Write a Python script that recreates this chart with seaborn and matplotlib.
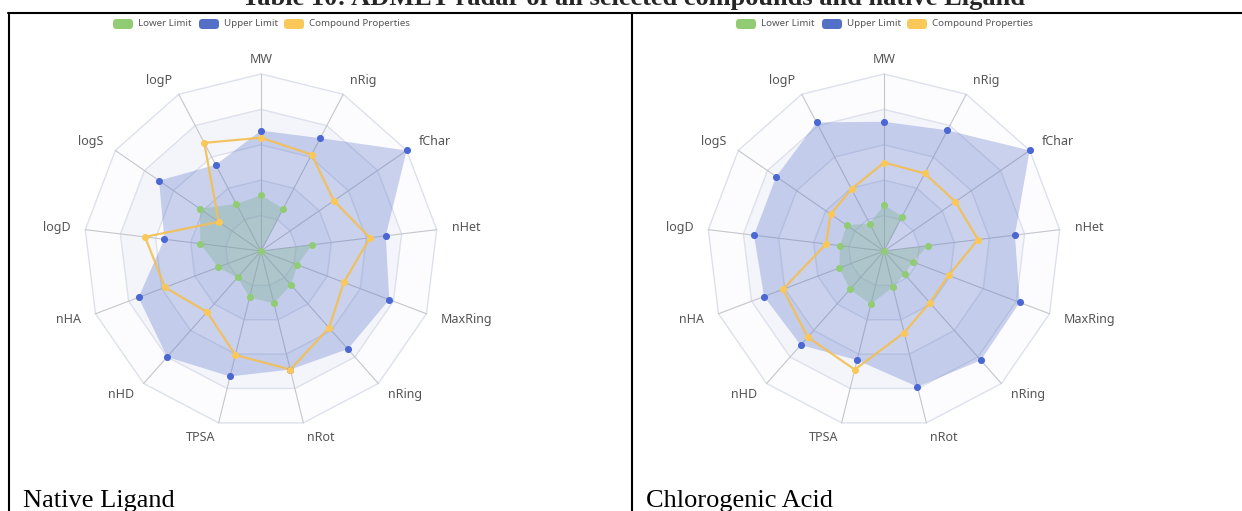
import numpy as np
import pandas as pd
import matplotlib
matplotlib.use("Agg")
import matplotlib.pyplot as plt
import seaborn as sns
from matplotlib.patches import FancyBboxPatch
from matplotlib.lines import Line2D
from matplotlib.transforms import IdentityTransform

# ---- data -------------------------------------------------------------
properties = ["MW", "nRig", "fChar", "nHet", "MaxRing", "nRing", "nRot",
              "TPSA", "nHD", "nHA", "logD", "logS", "logP"]

native_lower = [0.315, 0.27, 0.0, 0.29, 0.22, 0.255, 0.305, 0.27, 0.20, 0.26, 0.345, 0.42, 0.30]
native_upper = [0.68, 0.72, 1.0, 0.71, 0.775, 0.74, 0.69, 0.73, 0.80, 0.74, 0.55, 0.70, 0.55]
native_compound = [0.64, 0.615, 0.50, 0.62, 0.50, 0.58, 0.69, 0.605, 0.46, 0.58, 0.66, 0.29, 0.69]

chloro_lower = [0.26, 0.22, 0.0, 0.25, 0.175, 0.175, 0.21, 0.31, 0.29, 0.27, 0.25, 0.256, 0.175]
chloro_upper = [0.73, 0.77, 1.0, 0.745, 0.82, 0.825, 0.79, 0.635, 0.71, 0.725, 0.74, 0.74, 0.82]
chloro_compound = [0.50, 0.495, 0.49, 0.535, 0.39, 0.39, 0.475, 0.69, 0.65, 0.61, 0.33, 0.367, 0.395]

panel_names = ["Native Ligand", "Chlorogenic Acid"]
series_names = ["Lower Limit", "Upper Limit", "Compound Properties"]
title = "Table 10: ADMET radar of all selected compounds and native Ligand"

panels = [
    (panel_names[0], native_lower, native_upper, native_compound),
    (panel_names[1], chloro_lower, chloro_upper, chloro_compound),
]

# ---- style ------------------------------------------------------------
sns.set_theme(style="white")
plt.rcParams["font.family"] = ["Noto Sans", "DejaVu Sans"]

GREEN, BLUE, YELLOW = "#91cc75", "#5470c6", "#fac858"
BLUE_DOT = "#4a67d2"
W, H = 1242, 511
R = 177
centers = [(261, 251), (884, 251)]

fig = plt.figure(figsize=(W / 100, H / 100), dpi=100)


def fx(px):
    return px / W


def fy(py):
    return 1 - py / H


n = len(properties)
theta = np.arange(n) * 2 * np.pi / n
theta_closed = np.append(theta, theta[0])


def closed(vals):
    v = np.asarray(vals, dtype=float)
    return np.append(v, v[0])


for (name, lower, upper, comp), (cx, cy) in zip(panels, centers):
    ax = fig.add_axes([fx(cx - R), fy(cy + R), 2 * R / W, 2 * R / H],
                      projection="polar")
    ax.set_theta_zero_location("N")
    ax.set_theta_direction(-1)
    ax.set_ylim(0, 1)
    ax.axis("off")

    # alternating split areas, outermost first
    band_colors = ["#fcfcfe", "#f3f5fa"]
    for k, lvl in enumerate([1.0, 0.8, 0.6, 0.4, 0.2]):
        ax.fill(theta_closed, np.full(n + 1, lvl), color=band_colors[k % 2],
                lw=0, zorder=0, clip_on=False)
    # ring lines
    for lvl in [0.2, 0.4, 0.6, 0.8, 1.0]:
        ax.plot(theta_closed, np.full(n + 1, lvl), color="#dde1ec", lw=1.0,
                zorder=1, clip_on=False)
    # spokes
    for t in theta:
        ax.plot([t, t], [0, 1], color="#c4c6cc", lw=0.8, zorder=1, clip_on=False)

    # long-form table of the three series
    df = pd.DataFrame({
        "theta": np.tile(theta_closed, 3),
        "value": np.concatenate([closed(lower), closed(upper), closed(comp)]),
        "series": np.repeat(series_names, n + 1),
    })
    low = df[df.series == series_names[0]]
    up = df[df.series == series_names[1]]
    cp = df[df.series == series_names[2]]

    ax.fill(low.theta, low.value, color=GREEN, alpha=0.35, lw=0, zorder=2, clip_on=False)
    ax.fill(up.theta, up.value, color=BLUE, alpha=0.3, lw=0, zorder=3, clip_on=False)

    sns.lineplot(data=cp, x="theta", y="value", sort=False, estimator=None,
                 color="#f4bf52", lw=1.6, alpha=0.9, ax=ax, zorder=4,
                 clip_on=False, legend=False)

    for sub, col in [(low, GREEN), (up, BLUE_DOT), (cp, YELLOW)]:
        sns.scatterplot(data=sub.iloc[:-1], x="theta", y="value", color=col,
                        s=26, linewidth=0, ax=ax, zorder=5, clip_on=False,
                        legend=False)
    ax.set_xlabel("")
    ax.set_ylabel("")

    # property names
    r_lab = 1 + 15 / R
    for t, lab in zip(theta, properties):
        sx = np.sin(t)
        ha = "center" if abs(sx) < 0.05 else ("left" if sx > 0 else "right")
        ax.text(t, r_lab, lab, ha=ha, va="center", fontsize=9, color="#555555")

    # legend
    for off, col, lab in zip([-148, -62, 23], [GREEN, BLUE, YELLOW], series_names):
        x0 = cx + off
        fig.add_artist(FancyBboxPatch((x0, H - 29), 20, 10,
                                      boxstyle="round,pad=0,rounding_size=3.5",
                                      transform=IdentityTransform(),
                                      facecolor=col, edgecolor="none"))
        fig.text(fx(x0 + 25), fy(24), lab, ha="left", va="center",
                 fontsize=7, color="#555555")

    # caption under each panel
    fig.text(fx(cx - 238), fy(507), name, ha="left", va="baseline",
             fontsize=19, family="Liberation Serif", color="black")

# table rules
lw = 1.5
fig.add_artist(Line2D([fx(8), 1], [fy(13), fy(13)], color="black", lw=lw,
                      transform=fig.transFigure))
fig.add_artist(Line2D([fx(9), fx(9)], [fy(13), 0], color="black", lw=lw,
                      transform=fig.transFigure))
fig.add_artist(Line2D([fx(632), fx(632)], [fy(13), 0], color="black", lw=lw,
                      transform=fig.transFigure))

# title, sized to span the table heading
t = fig.text(fx(633.5), fy(4.5), title, ha="center", va="baseline",
             fontsize=17, fontweight="bold", family="Liberation Serif")
fig.canvas.draw()
wpx = t.get_window_extent().width
t.set_fontsize(17 * 783 / wpx)

fig.savefig("out.png", dpi=100)
